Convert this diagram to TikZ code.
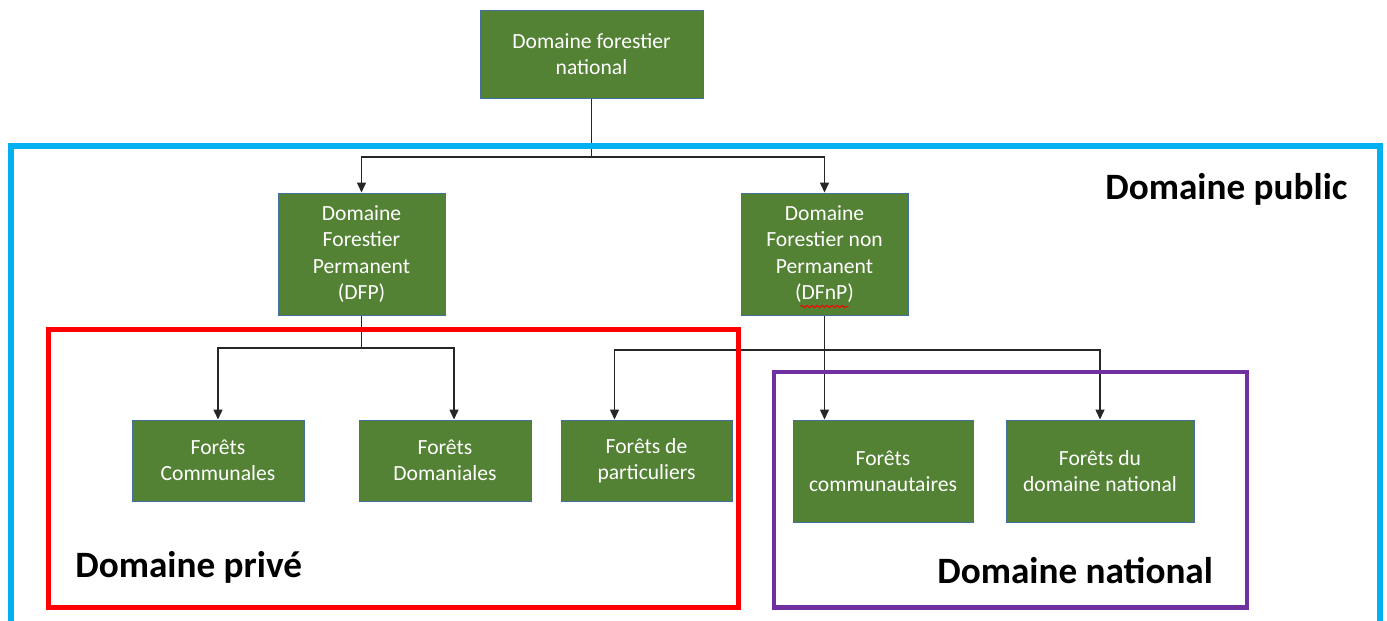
\documentclass[tikz,border=0pt]{standalone}
\usepackage{fontspec}
\setmainfont{Carlito}
\usetikzlibrary{arrows.meta,decorations.pathmorphing}
\definecolor{boxgreen}{HTML}{548235}
\definecolor{boxedge}{HTML}{41719C}
\definecolor{pubblue}{HTML}{00B0F0}
\definecolor{privred}{HTML}{FF0000}
\definecolor{natpurple}{HTML}{7030A0}
\begin{document}
\begin{tikzpicture}[x=0.5pt,y=-0.5pt,
  box/.style={draw=boxedge, line width=0.5pt, fill=boxgreen, text=white, align=center, inner sep=0pt, font=\fontsize{10.8}{13.2}\selectfont},
  conn/.style={line width=0.75pt, draw=black!85},
  arr/.style={conn, -{Triangle[length=5pt,width=4.5pt]}},
  lbl/.style={font=\fontsize{18.6}{22}\selectfont\bfseries, inner sep=0pt, anchor=base west}]
\useasboundingbox (0,0) rectangle (1387,621);
\fill[white] (0,0) rectangle (1387,621);

% boxes
\node[box, minimum width=111.5pt, minimum height=44pt] (top) at (591.5,54) {Domaine forestier\\national};
\node[box, minimum width=83.5pt, minimum height=61pt] (dfp) at (361.5,254) {Domaine\\Forestier\\Permanent\\(DFP)};
\node[box, minimum width=83.5pt, minimum height=61pt] (dfnp) at (824.5,254) {Domaine\\Forestier non\\Permanent\\(DFnP)};
\node[box, minimum width=86pt, minimum height=40.5pt] (comm) at (218,460.5) {Forêts\\Communales};
\node[box, minimum width=86pt, minimum height=40.5pt] (doman) at (445,460.5) {Forêts\\Domaniales};
\node[box, minimum width=85.5pt, minimum height=40.5pt] (part) at (646.5,460.5) {Forêts de\\particuliers};
\node[box, minimum width=90pt, minimum height=51pt] (cmty) at (883,471) {Forêts\\communautaires};
\node[box, minimum width=94pt, minimum height=51pt] (dnat) at (1100,471) {Forêts du\\domaine national};

% spell-check squiggle
\draw[privred, line width=0.5pt, decorate, decoration={snake, amplitude=0.6pt, segment length=2.5pt}]
  ([shift={(-12pt,4.5pt)}]dfnp.south) -- ([shift={(12pt,4.5pt)}]dfnp.south);

% connectors
\coordinate (bus1) at (591.5,157);
\draw[conn] (top.south) -- (bus1);
\draw[arr] (bus1) -| (dfp.north);
\draw[arr] (bus1) -| (dfnp.north);
\coordinate (bus2) at (361.5,348);
\draw[conn] (dfp.south) -- (bus2);
\draw[arr] (bus2) -| (comm.north);
\draw[arr] (bus2) -| ([xshift=4.5pt]doman.north);
\coordinate (bus3) at (824.5,350);
\draw[arr] (dfnp.south) -- (dfnp.south |- cmty.north);
\draw[arr] (bus3) -| ([xshift=-16pt]part.north);
\draw[arr] (bus3) -| (dnat.north);

% frames
\draw[pubblue, line width=2.8pt] (11,146) rectangle (1380,640);
\draw[privred, line width=2.5pt] (48.5,329) rectangle (738.5,607);
\draw[natpurple, line width=2.2pt] (774,372) rectangle (1247,607.5);

% labels
\node[lbl] (lpub) at (1105,199) {Domaine public};
\node[lbl] (lpriv) at (75,577) {Domaine privé};
\node[lbl] (lnat) at (937,583) {Domaine national};
\end{tikzpicture}
\end{document}
